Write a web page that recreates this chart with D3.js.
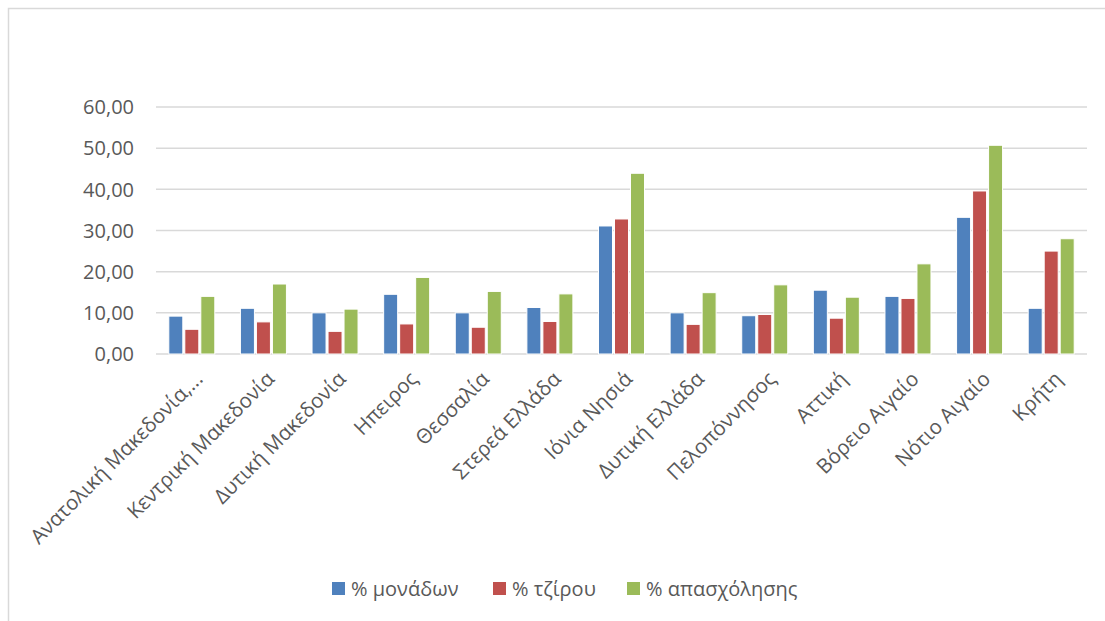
<!DOCTYPE html>
<html>
<head>
<meta charset="utf-8">
<script src="https://cdn.jsdelivr.net/npm/d3@7"></script>
<style>
  body { margin: 0; background: #fff; }
  text { font-family: "Open Sans", sans-serif; fill: #595959; }
</style>
</head>
<body>
<div id="main"><svg width="1105" height="621"></svg></div>
<script>
var svg = d3.select("#main svg");

// Data
var regions = ["Ανατολική Μακεδονία,...", "Κεντρική Μακεδονία", "Δυτική Μακεδονία", "Ηπειρος",
  "Θεσσαλία", "Στερεά Ελλάδα", "Ιόνια Νησιά", "Δυτική Ελλάδα", "Πελοπόννησος", "Αττική",
  "Βόρειο Αιγαίο", "Νότιο Αιγαίο", "Κρήτη"];
var seriesNames = ["% μονάδων", "% τζίρου", "% απασχόλησης"];
var units = [9.2, 11.1, 10.0, 14.5, 10.0, 11.3, 31.1, 10.0, 9.3, 15.5, 14.0, 33.2, 11.1];
var turnover = [6.0, 7.8, 5.5, 7.3, 6.5, 7.9, 32.8, 7.2, 9.6, 8.7, 13.5, 39.6, 25.0];
var employment = [14.0, 17.0, 10.9, 18.6, 15.2, 14.6, 43.9, 14.9, 16.8, 13.8, 21.9, 50.7, 28.0];
var yTicks = [0, 10, 20, 30, 40, 50, 60];

var colors = ["#4f81bd", "#c0504d", "#9bbb59"];
var values = [units, turnover, employment];

// chart frame (left + top edges visible)
svg.append('path')
    .attr('d', 'M8.5,621V8.5H1105')
    .attr('fill', 'none')
    .attr('stroke', '#d9d9d9')
    .attr('stroke-width', 1.5);

var xScale = d3.scaleBand()
    .domain(regions)
    .range([156, 1087]);

var xInner = d3.scaleBand()
    .domain(seriesNames)
    .range([-24, 24]);

var yScale = d3.scaleLinear()
    .domain([0, 60])
    .range([354, 107]);

// gridlines
svg.append('g').selectAll('line').data(yTicks)
    .enter().append('line')
    .attr('x1', 156).attr('x2', 1087)
    .attr('y1', function(d) { return yScale(d); })
    .attr('y2', function(d) { return yScale(d); })
    .attr('stroke', '#d9d9d9')
    .attr('stroke-width', 1.5);

// y labels
svg.append('g').selectAll('text').data(yTicks)
    .enter().append('text')
    .attr('x', 134)
    .attr('y', function(d) { return yScale(d); })
    .attr('dy', '0.36em')
    .attr('text-anchor', 'end')
    .style('font-size', '20px')
    .text(function(d) { return d3.format('.2f')(d).replace('.', ','); });

// bars
var groups = svg.append('g').selectAll('g').data(regions)
    .enter().append('g')
    .attr('transform', function(d) { return 'translate(' + [xScale(d) + xScale.bandwidth() / 2, 0] + ')'; });

groups.selectAll('rect')
    .data(function(d, i) { return values.map(function(v, s) { return {s: s, v: v[i]}; }); })
    .enter().append('rect')
    .attr('x', function(d) { return xInner(seriesNames[d.s]) + 1; })
    .attr('width', xInner.bandwidth() - 2)
    .attr('y', function(d) { return yScale(d.v); })
    .attr('height', function(d) { return yScale(0) - yScale(d.v); })
    .attr('fill', function(d) { return colors[d.s]; })
    .attr('stroke', '#ffffff')
    .attr('stroke-width', 1);

// x labels rotated
svg.append('g').selectAll('text').data(regions)
    .enter().append('text')
    .attr('transform', function(d) {
        return 'translate(' + [xScale(d) + xScale.bandwidth() / 2 + 2, 370] + ') rotate(-45)';
    })
    .attr('text-anchor', 'end')
    .attr('dy', '0.7em')
    .style('font-size', '20.5px')
    .text(function(d) { return d; });

// legend
var legend = svg.append('g').attr('transform', 'translate(332,582)');
var legendX = [0, 161, 295];
legend.selectAll('g').data(seriesNames)
    .enter().append('g')
    .attr('transform', function(d, i) { return 'translate(' + [legendX[i], 0] + ')'; })
    .each(function(d, i) {
        var g = d3.select(this);
        g.append('rect').attr('width', 13).attr('height', 13).attr('fill', colors[i]);
        g.append('text').attr('x', 19).attr('y', 7).attr('dy', '0.36em')
            .style('font-size', '20px').text(d);
    });
</script>
</body>
</html>
